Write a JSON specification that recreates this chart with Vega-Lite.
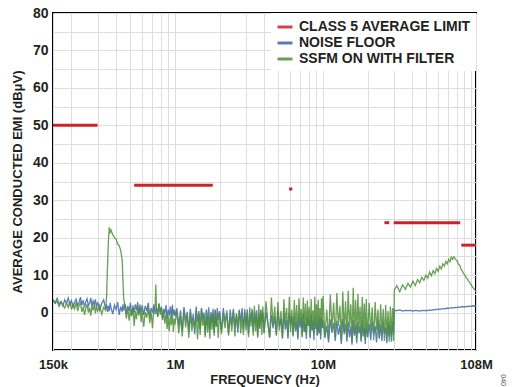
{
"$schema": "https://vega.github.io/schema/vega-lite/v6.json",
"width": 423, "height": 337,
"autosize": {"type": "none"},
"padding": {"left": 53, "top": 13, "right": 41, "bottom": 37},
"background": "white",
"title": {"text": "040", "orient": "right", "anchor": "end", "fontSize": 7, "font": "Liberation Sans", "fontWeight": "normal", "color": "#555555", "offset": 30, "dy": 22},
"config": {
  "font": "Liberation Sans",
  "view": {"stroke": "#000000", "strokeWidth": 2},
  "axis": {"ticks": false, "domain": false, "grid": true, "gridColor": "#dddddd", "gridWidth": 1, "labelFontWeight": "bold", "labelColor": "#231F20", "titleFontWeight": "bold", "titleColor": "#231F20", "titleFontSize": 13, "labelFlush": false}
},
"datasets": {
"limits": [
{"f1":0.15,"f2":0.3,"v":50},
{"f1":0.53,"f2":1.8,"v":34},
{"f1":5.9,"f2":6.2,"v":33},
{"f1":26,"f2":28,"v":24},
{"f1":30,"f2":84.5,"v":24},
{"f1":86,"f2":108,"v":18}
],
"trace": [
{"f":0.150,"n":3.5,"s":3.2},{"f":0.155,"n":2.6,"s":2.4},{"f":0.160,"n":3.8,"s":3.0},{"f":0.165,"n":2.2,"s":1.6},{"f":0.170,"n":3.0,"s":2.8},
{"f":0.175,"n":1.8,"s":2.0},{"f":0.180,"n":3.4,"s":1.2},{"f":0.185,"n":2.4,"s":2.6},{"f":0.190,"n":3.9,"s":1.4},{"f":0.195,"n":2.1,"s":3.0},
{"f":0.200,"n":3.2,"s":0.8},{"f":0.205,"n":1.5,"s":2.2},{"f":0.210,"n":2.8,"s":1.0},{"f":0.215,"n":3.6,"s":2.8},{"f":0.220,"n":1.9,"s":0.4},
{"f":0.225,"n":2.7,"s":1.8},{"f":0.230,"n":4.1,"s":2.6},{"f":0.235,"n":2.0,"s":0.2},{"f":0.240,"n":3.3,"s":1.6},{"f":0.245,"n":1.4,"s":-0.6},
{"f":0.250,"n":2.9,"s":1.2},{"f":0.255,"n":3.7,"s":2.2},{"f":0.260,"n":1.8,"s":0.0},{"f":0.265,"n":2.5,"s":1.4},{"f":0.270,"n":3.9,"s":-0.8},
{"f":0.275,"n":1.6,"s":1.8},{"f":0.280,"n":3.1,"s":0.6},{"f":0.285,"n":2.2,"s":2.4},{"f":0.290,"n":3.5,"s":-0.2},{"f":0.295,"n":1.3,"s":1.6},
{"f":0.300,"n":2.8,"s":0.4},{"f":0.310,"n":0.6,"s":2.0},{"f":0.320,"n":2.4,"s":-0.4},{"f":0.330,"n":3.4,"s":1.4},{"f":0.340,"n":1.0,"s":0.6},
{"f":0.345,"n":2.2,"s":4.0},{"f":0.350,"n":0.2,"s":12.0},{"f":0.355,"n":1.8,"s":19.0},{"f":0.360,"n":0.4,"s":22.8},{"f":0.365,"n":2.6,"s":21.4},
{"f":0.370,"n":1.2,"s":22.0},{"f":0.380,"n":-0.4,"s":20.8},{"f":0.390,"n":2.0,"s":20.0},{"f":0.400,"n":0.8,"s":19.6},{"f":0.410,"n":2.8,"s":18.3},
{"f":0.420,"n":-0.6,"s":17.9},{"f":0.430,"n":1.6,"s":16.6},{"f":0.440,"n":0.2,"s":14.0},{"f":0.445,"n":2.2,"s":9.0},{"f":0.450,"n":0.6,"s":4.0},
{"f":0.460,"n":2.4,"s":1.0},{"f":0.470,"n":-0.2,"s":-1.6},{"f":0.480,"n":1.8,"s":1.4},{"f":0.490,"n":0.4,"s":-2.2},{"f":0.500,"n":2.6,"s":0.8},
{"f":0.510,"n":-0.8,"s":-1.0},{"f":0.520,"n":1.4,"s":2.0},{"f":0.530,"n":0.0,"s":-3.6},{"f":0.540,"n":2.2,"s":0.4},{"f":0.550,"n":0.6,"s":-1.8},
{"f":0.560,"n":2.8,"s":1.6},{"f":0.570,"n":-0.4,"s":-0.8},{"f":0.580,"n":1.6,"s":2.2},{"f":0.590,"n":0.2,"s":-2.6},
{"f":0.600,"n":2.0,"s":0.6},{"f":0.615,"n":-0.6,"s":-3.8},{"f":0.630,"n":1.8,"s":0.2},{"f":0.645,"n":0.4,"s":-1.4},{"f":0.660,"n":2.6,"s":1.8},
{"f":0.675,"n":-1.2,"s":-2.8},{"f":0.690,"n":1.2,"s":0.0},{"f":0.705,"n":0.0,"s":-4.2},{"f":0.720,"n":2.2,"s":1.2},{"f":0.735,"n":-0.4,"s":1.8},
{"f":0.742,"n":1.0,"s":7.5},{"f":0.750,"n":1.6,"s":1.0},{"f":0.765,"n":-1.0,"s":-1.2},{"f":0.780,"n":2.4,"s":2.4},{"f":0.795,"n":0.2,"s":-0.6},
{"f":0.810,"n":1.4,"s":1.6},{"f":0.825,"n":-1.6,"s":-2.0},{"f":0.840,"n":1.0,"s":0.4},{"f":0.855,"n":-0.2,"s":-3.0},{"f":0.870,"n":2.0,"s":-0.2},
{"f":0.885,"n":-1.8,"s":-4.4},{"f":0.900,"n":0.8,"s":-1.0},{"f":0.915,"n":-0.8,"s":-5.0},{"f":0.930,"n":1.6,"s":-0.8},{"f":0.945,"n":-1.2,"s":-3.4},
{"f":0.960,"n":2.1,"s":0.6},{"f":0.975,"n":-0.6,"s":-5.2},{"f":0.990,"n":0.8,"s":-1.6},
{"f":1.00,"n":-1.0,"s":-3.2},{"f":1.03,"n":1.2,"s":0.4},{"f":1.06,"n":-3.5,"s":-5.6},{"f":1.09,"n":0.6,"s":-1.0},{"f":1.12,"n":-4.8,"s":-6.4},
{"f":1.15,"n":1.5,"s":0.8},{"f":1.18,"n":-2.2,"s":-4.0},{"f":1.21,"n":0.2,"s":-0.6},{"f":1.24,"n":-5.2,"s":-6.8},{"f":1.27,"n":1.0,"s":0.2},
{"f":1.30,"n":-3.0,"s":-5.0},{"f":1.33,"n":-0.4,"s":-1.8},{"f":1.36,"n":-5.8,"s":-4.4},{"f":1.39,"n":1.6,"s":0.6},{"f":1.42,"n":-2.6,"s":-7.2},
{"f":1.45,"n":0.4,"s":-0.4},{"f":1.48,"n":-4.4,"s":-6.0},{"f":1.51,"n":1.2,"s":1.0},{"f":1.54,"n":-1.8,"s":-3.6},{"f":1.57,"n":0.0,"s":-0.8},
{"f":1.60,"n":-6.0,"s":-6.6},{"f":1.63,"n":0.8,"s":0.4},{"f":1.66,"n":-3.4,"s":-5.4},{"f":1.69,"n":1.4,"s":-1.2},{"f":1.72,"n":-4.6,"s":-7.0},
{"f":1.75,"n":-0.2,"s":0.2},{"f":1.78,"n":-2.8,"s":-4.6},{"f":1.81,"n":1.0,"s":-0.4},{"f":1.84,"n":-5.4,"s":-6.2},{"f":1.87,"n":0.6,"s":0.8},
{"f":1.90,"n":-3.8,"s":-3.8},{"f":1.93,"n":1.2,"s":-1.4},{"f":1.96,"n":-2.0,"s":-6.8},
{"f":2.00,"n":0.4,"s":0.2},{"f":2.06,"n":-4.8,"s":-5.8},{"f":2.12,"n":1.2,"s":-0.6},{"f":2.18,"n":-2.4,"s":-4.2},{"f":2.24,"n":-0.2,"s":0.6},
{"f":2.30,"n":-5.6,"s":-6.2},{"f":2.36,"n":0.8,"s":-1.0},{"f":2.42,"n":-3.2,"s":-5.0},{"f":2.48,"n":1.0,"s":0.4},{"f":2.54,"n":-4.0,"s":-6.4},
{"f":2.60,"n":-0.6,"s":-0.2},{"f":2.66,"n":-5.4,"s":-3.6},{"f":2.72,"n":0.6,"s":0.8},{"f":2.78,"n":-2.8,"s":-5.6},{"f":2.84,"n":1.2,"s":-1.2},
{"f":2.90,"n":-4.6,"s":-6.0},{"f":2.96,"n":0.2,"s":1.0},{"f":3.02,"n":-3.6,"s":-4.8},{"f":3.08,"n":0.8,"s":-0.4},{"f":3.14,"n":-5.8,"s":-6.6},
{"f":3.20,"n":-0.4,"s":1.4},{"f":3.26,"n":-2.2,"s":-3.8},{"f":3.32,"n":1.0,"s":0.2},{"f":3.38,"n":-5.0,"s":-6.2},{"f":3.44,"n":0.4,"s":1.8},
{"f":3.50,"n":-3.0,"s":-5.0},{"f":3.56,"n":0.6,"s":-0.8},{"f":3.62,"n":-6.2,"s":-6.8},{"f":3.68,"n":-0.2,"s":2.2},{"f":3.74,"n":-4.0,"s":-4.4},
{"f":3.80,"n":0.8,"s":0.6},{"f":3.86,"n":-2.6,"s":-6.0},{"f":3.92,"n":0.0,"s":1.6},
{"f":4.00,"n":-5.4,"s":-5.6},{"f":4.12,"n":0.2,"s":3.0},{"f":4.24,"n":-3.0,"s":-2.4},{"f":4.36,"n":-6.6,"s":-6.8},{"f":4.48,"n":-0.6,"s":4.0},
{"f":4.60,"n":-4.2,"s":-3.6},{"f":4.72,"n":-1.2,"s":1.6},{"f":4.84,"n":-6.0,"s":-6.2},{"f":4.96,"n":0.4,"s":2.8},{"f":5.08,"n":-3.8,"s":-4.8},
{"f":5.20,"n":-1.6,"s":0.4},{"f":5.32,"n":-6.8,"s":-7.0},{"f":5.44,"n":-0.2,"s":3.6},{"f":5.56,"n":-4.6,"s":-3.0},{"f":5.68,"n":-2.0,"s":1.2},
{"f":5.80,"n":-7.0,"s":-6.4},{"f":5.92,"n":0.0,"s":4.2},{"f":6.04,"n":-3.4,"s":-5.2},{"f":6.16,"n":-1.0,"s":0.8},{"f":6.28,"n":-6.4,"s":-6.0},
{"f":6.40,"n":-0.8,"s":3.4},{"f":6.52,"n":-5.0,"s":-4.0},{"f":6.64,"n":-2.4,"s":2.0},{"f":6.76,"n":-7.2,"s":-6.6},{"f":6.88,"n":-0.4,"s":3.8},
{"f":7.00,"n":-4.0,"s":-2.6},{"f":7.12,"n":-1.4,"s":1.0},{"f":7.24,"n":-6.6,"s":-6.2},{"f":7.36,"n":-0.2,"s":4.0},{"f":7.48,"n":-5.2,"s":-5.0},
{"f":7.60,"n":-2.8,"s":2.4},{"f":7.72,"n":-7.0,"s":-5.8},{"f":7.84,"n":-0.8,"s":3.2},{"f":7.96,"n":-3.6,"s":-3.4},{"f":8.08,"n":-1.8,"s":1.4},
{"f":8.20,"n":-6.8,"s":-6.4},{"f":8.32,"n":-0.6,"s":3.6},{"f":8.44,"n":-4.8,"s":-4.6},{"f":8.56,"n":-2.2,"s":0.6},{"f":8.68,"n":-7.4,"s":-5.6},
{"f":8.80,"n":-1.0,"s":4.2},{"f":8.92,"n":-4.4,"s":-2.8},{"f":9.04,"n":-2.6,"s":2.2},{"f":9.16,"n":-6.2,"s":-6.0},{"f":9.28,"n":-0.8,"s":3.4},
{"f":9.40,"n":-5.6,"s":-4.4},{"f":9.52,"n":-1.6,"s":1.2},{"f":9.64,"n":-7.2,"s":-6.2},{"f":9.76,"n":-1.2,"s":3.8},{"f":9.88,"n":-4.2,"s":-3.2},
{"f":10.0,"n":-2.0,"s":4.4},{"f":10.3,"n":-6.8,"s":-6.4},{"f":10.6,"n":-3.6,"s":0.8},{"f":10.9,"n":-8.0,"s":-7.2},{"f":11.2,"n":-1.8,"s":4.8},
{"f":11.5,"n":-5.4,"s":-4.2},{"f":11.8,"n":-2.8,"s":2.6},{"f":12.1,"n":-7.6,"s":-6.8},{"f":12.4,"n":-2.2,"s":5.2},{"f":12.7,"n":-6.0,"s":-3.6},
{"f":13.0,"n":-3.4,"s":1.8},{"f":13.3,"n":-8.4,"s":-7.6},{"f":13.6,"n":-1.6,"s":5.6},{"f":13.9,"n":-5.8,"s":-5.2},{"f":14.2,"n":-3.0,"s":3.0},
{"f":14.5,"n":-7.8,"s":-6.6},{"f":14.8,"n":-2.4,"s":5.8},{"f":15.1,"n":-6.6,"s":-4.0},{"f":15.4,"n":-3.8,"s":2.2},{"f":15.7,"n":-8.6,"s":-7.8},
{"f":16.0,"n":-2.0,"s":6.6},{"f":16.3,"n":-6.2,"s":-5.6},{"f":16.6,"n":-3.2,"s":3.4},{"f":16.9,"n":-8.2,"s":-7.0},{"f":17.2,"n":-2.6,"s":5.0},
{"f":17.5,"n":-5.6,"s":-4.4},{"f":17.8,"n":-3.6,"s":1.6},{"f":18.1,"n":-7.8,"s":-7.4},{"f":18.4,"n":-2.2,"s":4.2},{"f":18.7,"n":-6.4,"s":-5.8},
{"f":19.0,"n":-4.0,"s":2.4},{"f":19.3,"n":-8.4,"s":-7.2},{"f":19.6,"n":-2.8,"s":3.6},
{"f":20.0,"n":-6.6,"s":-6.6},{"f":20.5,"n":-3.0,"s":2.6},{"f":21.0,"n":-7.4,"s":-5.0},{"f":21.5,"n":-2.4,"s":1.4},{"f":22.0,"n":-6.0,"s":-7.4},
{"f":22.5,"n":-3.6,"s":2.8},{"f":23.0,"n":-8.0,"s":-4.6},{"f":23.5,"n":-2.2,"s":0.8},{"f":24.0,"n":-6.8,"s":-7.0},{"f":24.5,"n":-3.2,"s":2.2},
{"f":25.0,"n":-7.6,"s":-5.6},{"f":25.5,"n":-2.6,"s":1.0},{"f":26.0,"n":-5.8,"s":-7.6},{"f":26.5,"n":-4.0,"s":2.0},{"f":27.0,"n":-8.2,"s":-6.0},
{"f":27.5,"n":-2.8,"s":0.4},{"f":28.0,"n":-6.4,"s":-7.8},{"f":28.5,"n":-3.4,"s":1.6},{"f":29.0,"n":-7.8,"s":-6.4},{"f":29.5,"n":-2.4,"s":1.2},
{"f":30.0,"n":-6.0,"s":-7.6},
{"f":30.3,"n":0.6,"s":6.0},{"f":31.5,"n":0.5,"s":7.2},{"f":33.0,"n":0.7,"s":5.6},{"f":34.5,"n":0.4,"s":7.4},{"f":36.0,"n":0.6,"s":6.2},
{"f":37.5,"n":0.5,"s":7.8},{"f":39.0,"n":0.6,"s":6.8},{"f":40.5,"n":0.4,"s":8.4},{"f":42.0,"n":0.6,"s":7.2},{"f":43.5,"n":0.5,"s":8.8},
{"f":45.0,"n":0.4,"s":8.0},{"f":46.5,"n":0.6,"s":9.4},{"f":48.0,"n":0.5,"s":8.6},{"f":49.5,"n":0.6,"s":10.0},{"f":51.0,"n":0.5,"s":9.2},
{"f":52.5,"n":0.7,"s":10.8},{"f":54.0,"n":0.6,"s":9.8},{"f":55.5,"n":0.8,"s":11.2},{"f":57.0,"n":0.7,"s":10.4},{"f":58.5,"n":0.9,"s":11.8},
{"f":60.0,"n":0.8,"s":11.0},{"f":61.5,"n":1.0,"s":12.4},{"f":63.0,"n":0.9,"s":11.6},{"f":64.5,"n":1.0,"s":13.0},{"f":66.0,"n":1.1,"s":12.4},
{"f":67.5,"n":1.0,"s":13.6},{"f":69.0,"n":1.2,"s":13.0},{"f":70.5,"n":1.1,"s":14.2},{"f":72.0,"n":1.2,"s":13.6},{"f":73.5,"n":1.3,"s":14.8},
{"f":75.0,"n":1.2,"s":14.2},{"f":76.5,"n":1.3,"s":14.9},{"f":78.0,"n":1.4,"s":14.4},{"f":79.5,"n":1.3,"s":14.0},{"f":81.0,"n":1.4,"s":13.6},
{"f":82.5,"n":1.5,"s":12.8},{"f":84.0,"n":1.4,"s":12.6},{"f":85.5,"n":1.5,"s":11.6},{"f":87.0,"n":1.6,"s":11.2},{"f":88.5,"n":1.5,"s":10.6},
{"f":90.0,"n":1.6,"s":10.2},{"f":91.5,"n":1.5,"s":9.8},{"f":93.0,"n":1.6,"s":9.2},{"f":94.5,"n":1.7,"s":9.0},{"f":96.0,"n":1.6,"s":8.4},
{"f":97.5,"n":1.7,"s":8.2},{"f":99.0,"n":1.6,"s":7.6},{"f":100.5,"n":1.7,"s":7.4},{"f":102.0,"n":1.8,"s":6.8},{"f":103.5,"n":1.7,"s":6.6},
{"f":105.0,"n":1.8,"s":6.2},{"f":106.5,"n":1.7,"s":6.0},{"f":108.0,"n":1.8,"s":5.6}
]
},
"layer": [
{
"data": {"name": "trace"},
"mark": {"type": "line", "strokeWidth": 1.3, "opacity": 0.85, "clip": true},
"encoding": {
"x": {"field": "f", "type": "quantitative", "scale": {"type": "log", "domain": [0.15, 108], "nice": false},
 "axis": {"title": "FREQUENCY (Hz)", "values": [0.15,0.2,0.3,0.4,0.5,0.6,0.7,0.8,0.9,1,2,3,4,5,6,7,8,9,10,20,30,40,50,60,70,80,90,100,108],
 "labelExpr": "datum.value == 0.15 ? '150k' : datum.value == 1 ? '1M' : datum.value == 10 ? '10M' : datum.value == 108 ? '108M' : ''",
 "labelOverlap": false, "labelFontSize": 13, "labelPadding": 8, "titlePadding": 2}},
"y": {"field": "n", "type": "quantitative", "scale": {"domain": [-10, 80], "nice": false},
 "axis": {"title": "AVERAGE CONDUCTED EMI (dBμV)", "tickCount": 18,
 "labelExpr": "datum.value < 0 || datum.value % 10 != 0 ? '' : datum.label",
 "labelOverlap": false, "labelFontSize": 14, "labelPadding": 5, "titlePadding": 8}},
"color": {"datum": "NOISE FLOOR", "type": "nominal",
 "scale": {"domain": ["CLASS 5 AVERAGE LIMIT", "NOISE FLOOR", "SSFM ON WITH FILTER"], "range": ["#CC2229", "#3E66B0", "#4F8F3A"]},
 "legend": {"title": null, "orient": "top-right", "offset": 0, "fillColor": "white", "padding": 5, "rowPadding": -3, "symbolType": "stroke", "symbolStrokeWidth": 3, "symbolSize": 225, "symbolOpacity": 1, "labelFontSize": 14, "labelFontWeight": "bold", "labelColor": "#231F20", "labelOffset": 5, "labelLimit": 300}}
}
},
{
"data": {"name": "trace"},
"mark": {"type": "line", "strokeWidth": 1.3, "opacity": 0.85, "clip": true},
"encoding": {
"x": {"field": "f", "type": "quantitative"},
"y": {"field": "s", "type": "quantitative"},
"color": {"datum": "SSFM ON WITH FILTER", "type": "nominal"}
}
},
{
"data": {"name": "limits"},
"mark": {"type": "rule", "strokeWidth": 3},
"encoding": {
"x": {"field": "f1", "type": "quantitative"},
"x2": {"field": "f2"},
"y": {"field": "v", "type": "quantitative"},
"color": {"datum": "CLASS 5 AVERAGE LIMIT", "type": "nominal"}
}
}
]
}
